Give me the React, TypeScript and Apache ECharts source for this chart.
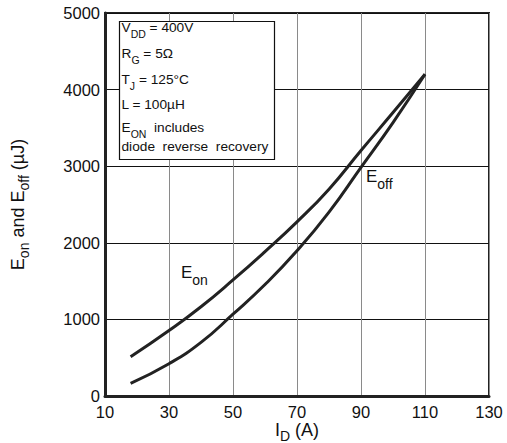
import React, { useEffect, useRef } from "react";
import * as echarts from "echarts";

const xTicks = [10, 30, 50, 70, 90, 110, 130];
const yTicks = [0, 1000, 2000, 3000, 4000, 5000];
const eonData: [number, number][] = [
  [18, 512], [30, 855], [40, 1165], [50, 1515], [60, 1885], [70, 2273],
  [80, 2700], [90, 3205], [100, 3700], [110, 4200],
];
const eoffData: [number, number][] = [
  [18, 166], [30, 422], [40, 700], [50, 1068], [60, 1455], [70, 1895],
  [80, 2400], [90, 2985], [100, 3570], [110, 4200],
];
const boxLines = [
  "{m|V}{s|DD}{m| = 400V}",
  "{m|R}{s|G}{m| = 5Ω}",
  "{m|T}{s|J}{m| = 125°C}",
  "{m|L = 100µH}",
  "{m|E}{s|ON}{m|  includes}",
  "{m|diode  reverse  recovery}",
];
const boxLineTops = [20, 46.5, 72.5, 97.5, 120.5, 139.5];

const FONT = "'Liberation Sans', Arial, Helvetica, sans-serif";

export default function App() {
  const ref = useRef<HTMLDivElement>(null);
  useEffect(() => {
    if (!ref.current) return;
    const chart = echarts.init(ref.current, null, { renderer: "svg" });
    const boxRich = {
      m: { fontSize: 13.7, lineHeight: 15, verticalAlign: "top", fontFamily: FONT, fill: "#111" },
      s: { fontSize: 10.5, lineHeight: 11, verticalAlign: "top", padding: [8, 0, 0, 0], fontFamily: FONT, fill: "#111" },
    };
    const bigRich = {
      m: { fontSize: 17, lineHeight: 19, verticalAlign: "top", fontFamily: FONT, fill: "#111" },
      s: { fontSize: 14, lineHeight: 14, verticalAlign: "top", padding: [9, 0, 0, 0], fontFamily: FONT, fill: "#111" },
    };
    const nameRich = {
      m: { fontSize: 18, lineHeight: 19, verticalAlign: "top", fontFamily: FONT, color: "#111" },
      s: { fontSize: 14, lineHeight: 14, verticalAlign: "top", padding: [8, 0, 0, 0], fontFamily: FONT, color: "#111" },
    };
    const option: any = {
      animation: false,
      backgroundColor: "#fff",
      grid: {
        left: 105, right: 18, top: 13, bottom: 47,
        show: true, borderColor: "#222", borderWidth: 2,
        containLabel: false, outerBoundsMode: "none",
      },
      xAxis: {
        type: "value", min: xTicks[0], max: xTicks[xTicks.length - 1], interval: 20,
        axisLine: { show: true, lineStyle: { color: "#222", width: 3 } },
        axisTick: { show: false },
        axisLabel: { color: "#111", fontSize: 16.5, fontFamily: FONT, margin: 7, formatter: (v: number) => String(v) },
        splitLine: { show: true, lineStyle: { color: "#8a8a8a", width: 1 } },
        name: "{m|I}{s|D}{m| (A)}",
        nameLocation: "middle",
        nameGap: 25,
        nameMoveOverlap: false,
        nameTextStyle: { fontSize: 18, fontFamily: FONT, color: "#111", rich: nameRich },
      },
      yAxis: {
        type: "value", min: yTicks[0], max: yTicks[yTicks.length - 1], interval: 1000,
        axisLine: { show: true, lineStyle: { color: "#222", width: 3 } },
        axisTick: { show: false },
        axisLabel: { color: "#111", fontSize: 16.5, fontFamily: FONT, margin: 5, formatter: (v: number) => String(v) },
        splitLine: { show: true, lineStyle: { color: "#111", width: 1 } },
        name: "{m|E}{s|on}{m| and E}{s|off}{m| (µJ)}",
        nameLocation: "middle",
        nameRotate: 90,
        nameGap: 77,
        nameMoveOverlap: false,
        nameTextStyle: { fontSize: 18, fontFamily: FONT, color: "#111", rich: nameRich },
      },
      series: [
        {
          name: "Eon", type: "line", data: eonData, smooth: 0.5, showSymbol: false,
          lineStyle: { color: "#222", width: 3 }, z: 3,
        },
        {
          name: "Eoff", type: "line", data: eoffData, smooth: 0.5, showSymbol: false,
          lineStyle: { color: "#222", width: 3 }, z: 3,
        },
      ],
      graphic: [
        {
          type: "rect", z: 10,
          shape: { x: 119.5, y: 21.5, width: 155, height: 138 },
          style: { fill: "#fff", stroke: "#111", lineWidth: 1.2 },
        },
        ...boxLines.map((t, i) => ({
          type: "text", z: 11, x: 121.5, y: boxLineTops[i],
          style: { text: t, rich: boxRich, fill: "#111", font: `13.7px ${FONT}` },
        })),
        {
          type: "text", z: 11, x: 181, y: 264,
          style: { text: "{m|E}{s|on}", rich: bigRich, fill: "#111", font: `17px ${FONT}` },
        },
        {
          type: "text", z: 11, x: 366, y: 168,
          style: { text: "{m|E}{s|off}", rich: bigRich, fill: "#111", font: `17px ${FONT}` },
        },
      ],
    };
    chart.setOption(option);
    return () => chart.dispose();
  }, []);
  return <div ref={ref} style={{ width: 507, height: 443, position: "absolute", left: 0, top: 0 }} />;
}
